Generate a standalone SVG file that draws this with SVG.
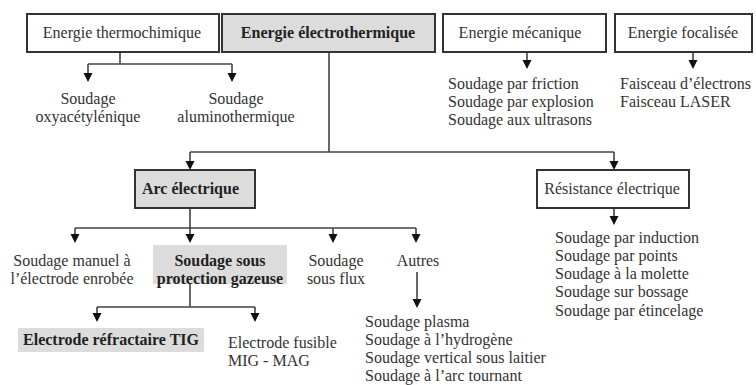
<svg xmlns="http://www.w3.org/2000/svg" width="756" height="385" viewBox="0 0 756 385">
<rect width="756" height="385" fill="#fff"/>
<g id="connectors">
<g fill="none" stroke="#444" stroke-width="1.6">
<path d="M120,52 V64 M88,64 H232 M88,64 V74 M232,64 V74"/>
<path d="M329,52 V152 M190,152 H614 M190,152 V162 M614,152 V162"/>
<path d="M527,52 V61 M693,52 V61 M614,208 V217"/>
<path d="M190,208 V228 M75,228 H416 M75,228 V235 M190,228 V235 M333,228 V235 M416,228 V235"/>
<path d="M417,272 V300"/>
<path d="M190,284 V307 M97,307 H255 M97,307 V314 M255,307 V314"/>
</g>
<g fill="#111">
<polygon points="83.5,73 92.5,73 88,82"/>
<polygon points="227.5,73 236.5,73 232,82"/>
<polygon points="185.5,161 194.5,161 190,170"/>
<polygon points="609.5,161 618.5,161 614,170"/>
<polygon points="522.5,60 531.5,60 527,69"/>
<polygon points="688.5,60 697.5,60 693,69"/>
<polygon points="609.5,216 618.5,216 614,225"/>
<polygon points="70.5,234 79.5,234 75,243"/>
<polygon points="185.5,234 194.5,234 190,243"/>
<polygon points="328.5,234 337.5,234 333,243"/>
<polygon points="411.5,234 420.5,234 416,243"/>
<polygon points="412.5,299 421.5,299 417,308"/>
<polygon points="92.5,313 101.5,313 97,322"/>
<polygon points="250.5,313 259.5,313 255,322"/>
</g>
</g>
<g id="thermo">
<rect x="27" y="14" width="192" height="38" fill="#fff" stroke="#333" stroke-width="2"/>
<text x="122" y="38" text-anchor="middle" font-family="Liberation Serif" font-size="16" fill="#333">Energie thermochimique</text>
</g>
<g id="electro">
<rect x="222" y="14" width="213" height="38" fill="#dcdcdc" stroke="#333" stroke-width="2"/>
<text x="328" y="38" text-anchor="middle" font-family="Liberation Serif" font-size="16" font-weight="bold" fill="#222">Energie électrothermique</text>
</g>
<g id="meca">
<rect x="443" y="14" width="163" height="38" fill="#fff" stroke="#333" stroke-width="2"/>
<text x="520" y="38" text-anchor="middle" font-family="Liberation Serif" font-size="16" fill="#333">Energie mécanique</text>
</g>
<g id="focal">
<rect x="615" y="14" width="137" height="38" fill="#fff" stroke="#333" stroke-width="2"/>
<text x="683" y="38" text-anchor="middle" font-family="Liberation Serif" font-size="16" fill="#333">Energie focalisée</text>
</g>
<g id="oxy" text-anchor="middle">
<text x="88" y="104" font-family="Liberation Serif" font-size="16" fill="#333">Soudage</text>
<text x="88" y="122" font-family="Liberation Serif" font-size="16" fill="#333">oxyacétylénique</text>
</g>
<g id="alu" text-anchor="middle">
<text x="236" y="104" font-family="Liberation Serif" font-size="16" fill="#333">Soudage</text>
<text x="236" y="122" font-family="Liberation Serif" font-size="16" fill="#333">aluminothermique</text>
</g>
<g id="meca-list">
<text x="448" y="89" font-family="Liberation Serif" font-size="16" fill="#333">Soudage par friction</text>
<text x="448" y="107" font-family="Liberation Serif" font-size="16" fill="#333">Soudage par explosion</text>
<text x="448" y="125" font-family="Liberation Serif" font-size="16" fill="#333">Soudage aux ultrasons</text>
</g>
<g id="focal-list">
<text x="620" y="89" font-family="Liberation Serif" font-size="16" fill="#333">Faisceau d’électrons</text>
<text x="620" y="107" font-family="Liberation Serif" font-size="16" fill="#333">Faisceau LASER</text>
</g>
<g id="arc">
<rect x="135" y="170" width="120" height="38" fill="#dcdcdc" stroke="#333" stroke-width="2"/>
<text x="142" y="194" font-family="Liberation Serif" font-size="16" font-weight="bold" fill="#222">Arc électrique</text>
</g>
<g id="resistance">
<rect x="537" y="170" width="152" height="38" fill="#fff" stroke="#333" stroke-width="2"/>
<text x="612" y="194" text-anchor="middle" font-family="Liberation Serif" font-size="16" fill="#333">Résistance électrique</text>
</g>
<g id="resistance-list">
<text x="555" y="243" font-family="Liberation Serif" font-size="16" fill="#333">Soudage par induction</text>
<text x="555" y="261" font-family="Liberation Serif" font-size="16" fill="#333">Soudage par points</text>
<text x="555" y="279" font-family="Liberation Serif" font-size="16" fill="#333">Soudage à la molette</text>
<text x="555" y="297" font-family="Liberation Serif" font-size="16" fill="#333">Soudage sur bossage</text>
<text x="555" y="316" font-family="Liberation Serif" font-size="16" fill="#333">Soudage par étincelage</text>
</g>
<g id="manuel" text-anchor="middle">
<text x="72" y="266" font-family="Liberation Serif" font-size="16" fill="#333">Soudage manuel à</text>
<text x="72" y="284" font-family="Liberation Serif" font-size="16" fill="#333">l’électrode enrobée</text>
</g>
<g id="gazeuse" text-anchor="middle">
<rect x="153" y="245" width="134" height="39" fill="#dcdcdc"/>
<text x="220" y="266" font-family="Liberation Serif" font-size="16" font-weight="bold" fill="#222">Soudage sous</text>
<text x="220" y="284" font-family="Liberation Serif" font-size="16" font-weight="bold" fill="#222">protection gazeuse</text>
</g>
<g id="flux" text-anchor="middle">
<text x="336" y="266" font-family="Liberation Serif" font-size="16" fill="#333">Soudage</text>
<text x="336" y="284" font-family="Liberation Serif" font-size="16" fill="#333">sous flux</text>
</g>
<g id="autres" text-anchor="middle">
<text x="418" y="266" font-family="Liberation Serif" font-size="16" fill="#333">Autres</text>
</g>
<g id="autres-list">
<text x="365" y="327" font-family="Liberation Serif" font-size="16" fill="#333">Soudage plasma</text>
<text x="365" y="345" font-family="Liberation Serif" font-size="16" fill="#333">Soudage à l’hydrogène</text>
<text x="365" y="363" font-family="Liberation Serif" font-size="16" fill="#333">Soudage vertical sous laitier</text>
<text x="365" y="381" font-family="Liberation Serif" font-size="16" fill="#333">Soudage à l’arc tournant</text>
</g>
<g id="tig" text-anchor="middle">
<rect x="18" y="328" width="186" height="24" fill="#dcdcdc"/>
<text x="111" y="345" font-family="Liberation Serif" font-size="16" font-weight="bold" fill="#222">Electrode réfractaire TIG</text>
</g>
<g id="fusible">
<text x="228" y="348" font-family="Liberation Serif" font-size="16" fill="#333">Electrode fusible</text>
<text x="228" y="366" font-family="Liberation Serif" font-size="16" fill="#333">MIG - MAG</text>
</g>
</svg>
